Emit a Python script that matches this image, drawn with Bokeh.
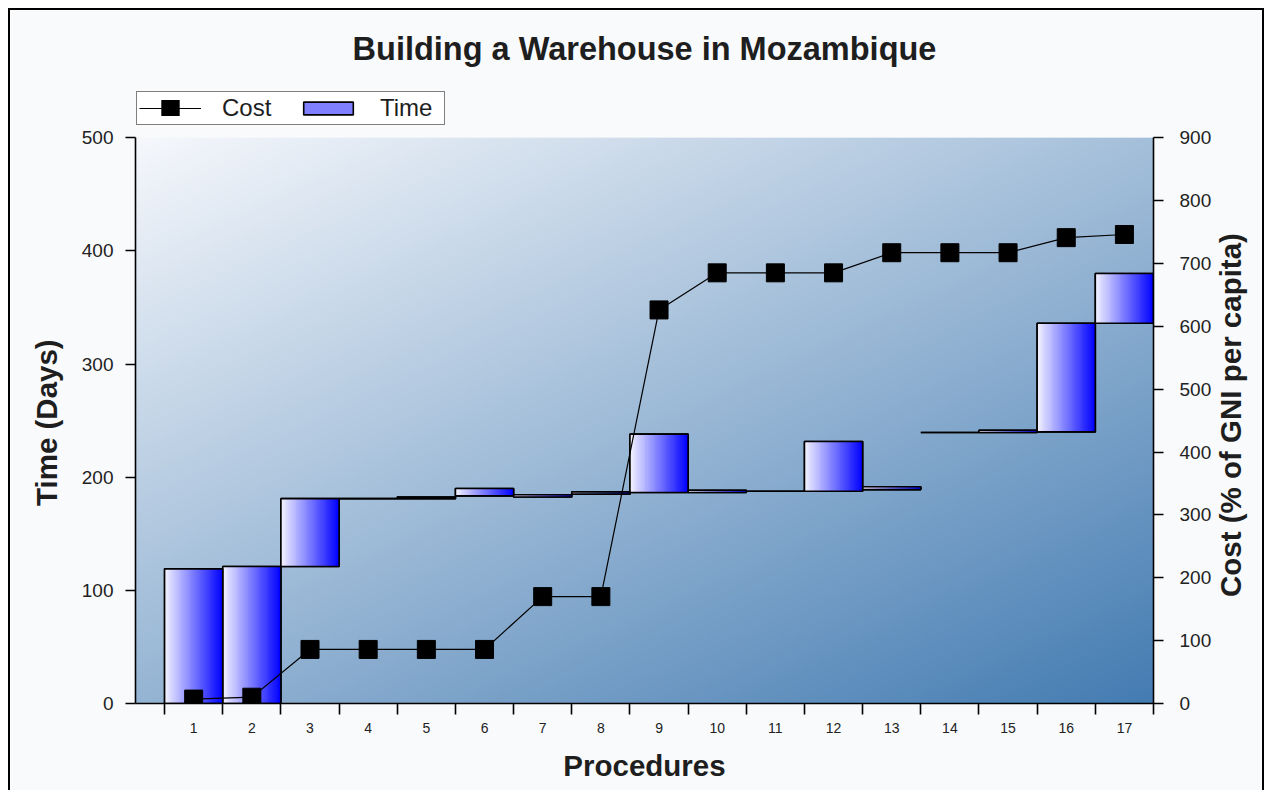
import math
import numpy as np
from bokeh.plotting import figure
from bokeh.models import Range1d, LinearAxis, FixedTicker, Legend, LegendItem
from bokeh.embed import file_html
from bokeh.resources import INLINE

# ---------------- data ----------------
procedures = list(range(1, 18))
proc_labels = [str(i) for i in procedures]
time_start = [0, 0, 121, 181, 181, 183.5, 182.5, 185, 186.5, 186.5, 187.5, 187.5, 189, 239.5, 239.5, 240, 336]
time_end = [119, 121, 181, 181, 182.5, 190, 184.5, 187, 238, 188.5, 187.5, 231.5, 191.5, 239.5, 241.5, 336, 380]
cost = [7, 10, 86, 86, 86, 86, 170, 170, 626, 685, 685, 685, 717, 717, 717, 741, 746]
time_ticks = [0, 100, 200, 300, 400, 500]
cost_ticks = [0, 100, 200, 300, 400, 500, 600, 700, 800, 900]
TIME_MAX = 500
COST_MAX = 900

# ---------------- layout constants (pixels) ----------------
TICK_FONT = "Liberation Sans"
LABEL_SIZE = "29.5px"
PLOT_H = 564          # height of the plotted (gradient) area
FRAME_H = 617         # frame includes the strip holding the legend
LEGEND_GAP = 14       # gap between legend box and plot top
ext = FRAME_H / PLOT_H
NB = "\u00a0"

p = figure(width=1256, height=782,
           x_range=Range1d(0, 17.5), y_range=Range1d(0, TIME_MAX * ext),
           output_backend="svg", toolbar_location=None,
           min_border_left=125, min_border_right=106,
           min_border_top=74, min_border_bottom=89,
           title="Building a Warehouse in Mozambique")
p.extra_y_ranges = {"cost": Range1d(0, COST_MAX * ext)}
p.styles = {"margin-left": "8px", "margin-top": "8px",
            "border-top": "2px solid black", "border-left": "2px solid black",
            "border-right": "2px solid black"}
p.border_fill_color = "#f9fafc"
p.background_fill_color = "#f9fafc"
p.outline_line_color = None
p.xgrid.visible = False
p.ygrid.visible = False

# title
p.title.text_font = "Liberation Sans"
p.title.text_font_size = "32.5px"
p.title.text_font_style = "bold"
p.title.text_color = "#1e1e1e"
p.title.align = "center"
p.title.vertical_align = "top"
p.title.standoff = 32

# ------------- background gradient (decoration) -------------
nx, ny = 340, 190
jj, ii = np.meshgrid(np.arange(nx), np.arange(ny))
px = jj / (nx - 1) * 1021.0
py_down = (1 - ii / (ny - 1)) * 564.0
t = (px * 0.42 + py_down * 0.91) / (1021 * 0.42 + 564 * 0.91)
c0 = np.array([246, 248, 252], dtype=float)
c1 = np.array([68, 124, 178], dtype=float)
bg = np.empty((ny, nx), dtype=np.uint32)
bgv = bg.view(dtype=np.uint8).reshape((ny, nx, 4))
for k in range(3):
    bgv[:, :, k] = (c0[k] + (c1[k] - c0[k]) * t).astype(np.uint8)
bgv[:, :, 3] = 255
xs, xe = p.x_range.start, p.x_range.end
p.image_rgba(image=[bg], x=xs, y=0, dw=xe - xs, dh=TIME_MAX, level="image")

# ------------- time bars (floating, gradient filled) -------------
bar_left = [i - 0.5 for i in procedures]
bar_right = [i + 0.5 for i in procedures]
bar_h = [e - s for s, e in zip(time_start, time_end)]

# solid base (also used as legend swatch), covered by the gradient images
proxy = p.quad(left=bar_left, right=bar_right, bottom=time_start, top=time_end,
               fill_color="#7f7fff", line_color="black", line_width=1.6)

ng = 64
tt = np.linspace(0, 1, ng)
grad = np.empty((1, ng), dtype=np.uint32)
gv = grad.view(dtype=np.uint8).reshape((1, ng, 4))
gv[0, :, 0] = (242 * (1 - tt)).astype(np.uint8)
gv[0, :, 1] = (242 * (1 - tt)).astype(np.uint8)
gv[0, :, 2] = 255
gv[0, :, 3] = 255
p.image_rgba(image=[grad] * len(procedures), x=bar_left, y=time_start,
             dw=[1.0] * len(procedures), dh=bar_h)
p.quad(left=bar_left, right=bar_right, bottom=time_start, top=time_end,
       fill_color=None, line_color="black", line_width=1.6)

# ------------- cost line -------------
cl = p.line(procedures, cost, y_range_name="cost", line_color="black", line_width=1.2)
cs = p.scatter(procedures, cost, y_range_name="cost", marker="square", size=18,
               fill_color="black", line_color="black")
# hidden twin used only to draw a large square in the legend
cs_leg = p.scatter(procedures, cost, y_range_name="cost", marker="square", size=4,
                   fill_color="black", line_color="black", line_width=12,
                   line_join="miter", visible=False)

# ------------- axes -------------
yax = p.yaxis[0]
yax.ticker = FixedTicker(ticks=time_ticks)
yax.bounds = (0, TIME_MAX)
yax.axis_label = "Time (Days)" + NB * 7
yax.axis_label_text_font = "Liberation Sans"
yax.axis_label_text_font_size = LABEL_SIZE
yax.axis_label_text_font_style = "bold"
yax.axis_label_text_color = "#1e1e1e"
yax.axis_label_standoff = 16
yax.major_label_text_font = TICK_FONT
yax.major_label_text_font_size = "19px"
yax.major_label_text_color = "#222222"
yax.major_label_standoff = 12
yax.major_tick_in = 0
yax.major_tick_out = 10
yax.minor_tick_line_color = None
yax.axis_line_width = 1.6
yax.major_tick_line_width = 1.6

rax = LinearAxis(y_range_name="cost", ticker=FixedTicker(ticks=cost_ticks),
                 bounds=(0, COST_MAX))
cost_title = "Cost (% of GNI per capita)"
try:
    rax.axis_label_align = "start"
    rax.axis_label_orientation = math.pi / 2
    rax.axis_label = NB * 13 + cost_title
except (AttributeError, ValueError):
    rax.axis_label = NB * 7 + cost_title
rax.axis_label_text_font = "Liberation Sans"
rax.axis_label_text_font_size = LABEL_SIZE
rax.axis_label_text_font_style = "bold"
rax.axis_label_text_color = "#1e1e1e"
rax.axis_label_standoff = 16
rax.major_label_text_font = TICK_FONT
rax.major_label_text_font_size = "19px"
rax.major_label_text_color = "#222222"
rax.major_label_standoff = 16
rax.major_tick_in = 0
rax.major_tick_out = 10
rax.minor_tick_line_color = None
rax.axis_line_width = 1.6
rax.major_tick_line_width = 1.6
p.add_layout(rax, "right")

xax = p.xaxis[0]
boundaries = [b - 0.5 for b in procedures] + [procedures[-1] + 0.5]
xax.ticker = FixedTicker(ticks=procedures, minor_ticks=boundaries)
xax.major_label_overrides = {i: s for i, s in zip(procedures, proc_labels)}
xax.axis_label = "Procedures"
xax.axis_label_text_font = "Liberation Sans"
xax.axis_label_text_font_size = LABEL_SIZE
xax.axis_label_text_font_style = "bold"
xax.axis_label_text_color = "#1e1e1e"
xax.axis_label_standoff = 13
xax.major_label_text_font = TICK_FONT
xax.major_label_text_font_size = "14px"
xax.major_label_text_color = "#222222"
xax.major_label_standoff = 8
xax.major_tick_in = 0
xax.major_tick_out = 0
xax.minor_tick_in = 0
xax.minor_tick_out = 11
xax.minor_tick_line_color = "black"
xax.minor_tick_line_width = 1.6
xax.axis_line_width = 1.6

# ------------- legend in the strip above the plotted area -------------
legend = Legend(items=[LegendItem(label="Cost", renderers=[cl, cs_leg]),
                       LegendItem(label="Time", renderers=[proxy])],
                orientation="horizontal", location=(1, PLOT_H + LEGEND_GAP), margin=0,
                padding=2, spacing=13, label_standoff=21, label_width=62,
                glyph_width=62, glyph_height=16,
                label_text_font="Liberation Sans", label_text_font_size="24px",
                label_text_color="#1e1e1e",
                border_line_color="black", border_line_width=1.6,
                background_fill_color="white", background_fill_alpha=1.0)
p.add_layout(legend, "center")

open("out.html", "w").write(file_html(p, INLINE))
